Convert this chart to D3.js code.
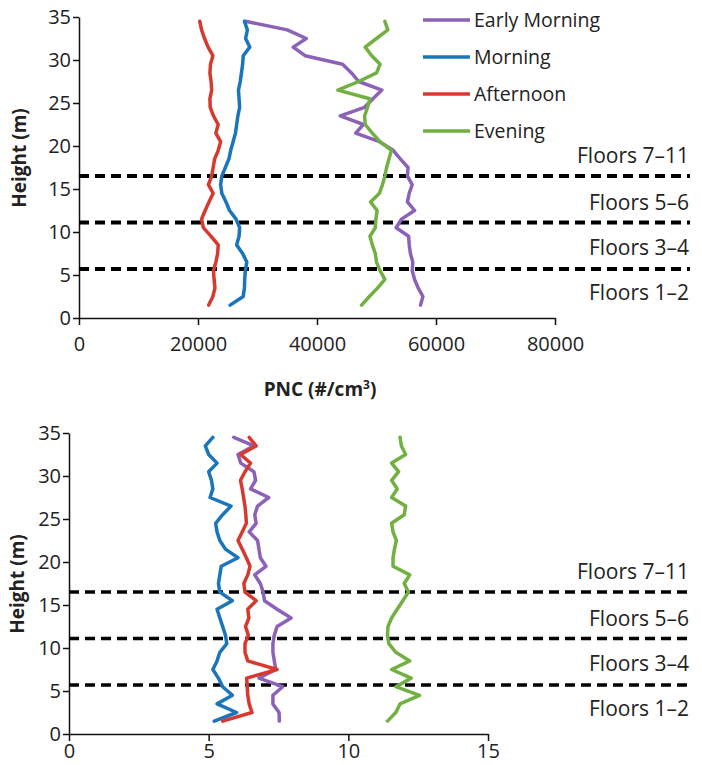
<!DOCTYPE html>
<html>
<head>
<meta charset="utf-8">
<script src="https://cdnjs.cloudflare.com/ajax/libs/d3/7.8.5/d3.min.js"></script>
<style>
    body { margin: 0; background: #fff; }
    svg text { font-family: "Open Sans", sans-serif; fill: #222; }
    .axis path, .axis line { stroke: #111; stroke-width: 1.5px; }
</style>
</head>
<body>
<div id="chart"></div>
<script>

// sampling heights (m), bottom to top
var heights = [1.5, 2.5, 3.5, 4.5, 5.5, 6.5, 7.5, 8.5, 9.5, 10.5, 11.5, 12.5, 13.5, 14.5, 15.5, 16.5, 17.5,
    18.5, 19.5, 20.5, 21.5, 22.5, 23.5, 24.5, 25.5, 26.5, 27.5, 28.5, 29.5, 30.5, 31.5, 32.5, 33.5, 34.5]

var seriesNames = ["Early Morning", "Morning", "Afternoon", "Evening"]
var seriesColours = ["#8c62b8", "#1a75bb", "#d63a2f", "#72b041"]

// top panel: PNC (#/cm3)
var pncEarly = [57400, 57800, 57000, 56400, 56000, 56100, 55700, 55500, 55400, 53300, 54200, 56400, 55200, 55500, 56000, 55200, 55300,
    54000, 52800, 50500, 46500, 47800, 43900, 48000, 49400, 50900, 47000, 45800, 44300, 38000, 36000, 38200, 35000, 28000]
var pncMorning = [25400, 27600, 27800, 27850, 27950, 28200, 27500, 26500, 26900, 27000, 26400, 25300, 24700, 24000, 23800, 24000, 24600,
    25200, 25500, 25900, 26300, 26500, 26700, 27000, 26900, 26800, 27100, 27300, 27500, 27600, 28700, 28000, 28300, 27800]
var pncAfternoon = [21800, 22500, 22850, 22700, 22600, 23000, 23300, 23400, 22200, 20900, 20600, 21200, 21850, 22550, 21750, 22300, 22550,
    22800, 23400, 23800, 23000, 23400, 22600, 22050, 22000, 22300, 22200, 22000, 22100, 22500, 21700, 21100, 20600, 20300]
var pncEvening = [47500, 48800, 50200, 51400, 50600, 50000, 49800, 49300, 48900, 49800, 49900, 50100, 49000, 50500, 51000, 51400, 51700,
    52100, 52500, 50600, 49300, 48100, 48000, 48500, 48900, 43500, 47000, 50000, 50600, 49200, 48100, 50000, 51900, 51400]

// bottom panel
var lowEarly = [7.53, 7.52, 7.3, 7.3, 7.65, 6.8, 7.4, 7.35, 7.3, 7.3, 7.35, 7.45, 7.95, 7.45, 7.0, 6.95, 6.85,
    6.65, 7.05, 6.85, 6.8, 6.75, 6.45, 6.7, 6.65, 6.75, 7.15, 6.5, 6.68, 6.62, 6.15, 6.05, 6.62, 5.9]
var lowMorning = [5.2, 6.0, 5.3, 5.85, 5.5, 5.35, 5.15, 5.3, 5.4, 5.65, 5.6, 5.5, 5.4, 5.3, 5.85, 5.4, 5.35,
    5.4, 5.45, 6.05, 5.6, 5.4, 5.3, 5.25, 5.5, 5.8, 5.05, 5.15, 5.1, 5.0, 5.3, 5.0, 4.88, 5.15]
var lowAfternoon = [5.5, 6.55, 6.45, 6.4, 6.38, 6.36, 7.45, 6.4, 6.3, 6.3, 6.42, 6.32, 6.44, 6.4, 6.7, 6.3, 6.26,
    6.4, 6.48, 6.35, 6.2, 6.05, 6.2, 6.35, 6.33, 6.3, 6.25, 6.2, 6.14, 6.3, 6.5, 6.14, 6.7, 6.45]
var lowEvening = [11.4, 11.7, 11.85, 12.55, 11.7, 12.25, 11.55, 12.2, 11.7, 11.45, 11.4, 11.42, 11.55, 11.75, 11.95, 12.15, 12.0,
    12.2, 11.6, 11.6, 11.65, 11.72, 11.6, 11.55, 12.0, 12.05, 11.55, 11.75, 11.55, 11.8, 11.55, 12.05, 11.9, 11.85]

var heightTicks = [0, 5, 10, 15, 20, 25, 30, 35]
var pncTicks = [0, 20000, 40000, 60000, 80000]
var lowTicks = [0, 5, 10, 15]

// floor boundaries (m) and label positions (m)
var floorLines = [5.7, 11.1, 16.5]
var floorLabels = ["Floors 1\u20132", "Floors 3\u20134", "Floors 5\u20136", "Floors 7\u201311"]
var floorLabelHeights = [2.1, 7.35, 12.55, 18.0]

var width = 702
var height = 765

var svg = d3.select("#chart").append("svg")
    .attr("width", width)
    .attr("height", height)

function drawPanel(opts) {

    var g = svg.append("g")

    var x = d3.scaleLinear().domain(opts.xDomain).range([opts.left, opts.right])
    var y = d3.scaleLinear().domain([0, 35]).range([opts.bottom, opts.top])

    g.append("g")
        .attr("class", "axis")
        .attr("transform", "translate(0," + opts.bottom + ")")
        .call(d3.axisBottom(x).tickValues(opts.xTicks).tickSize(7).tickSizeOuter(0).tickFormat(d3.format("d")))
        .call(function (a) {
            a.selectAll("text").attr("font-size", "20px").attr("y", opts.xLabelY).attr("dy", "0.35em")
                .style("font-family", "Open Sans").attr("fill", "#222")
        })

    g.append("g")
        .attr("class", "axis")
        .attr("transform", "translate(" + opts.left + ",0)")
        .call(d3.axisLeft(y).tickValues(heightTicks).tickSize(6).tickSizeOuter(0))
        .call(function (a) {
            a.selectAll("text").attr("font-size", "20px").attr("x", -8).style("font-family", "Open Sans").attr("fill", "#222")
        })

    // floor boundaries
    g.selectAll(".floor")
        .data(floorLines)
        .enter()
        .append("line")
        .attr("x1", opts.left)
        .attr("x2", 690)
        .attr("y1", function (d) { return y(d) })
        .attr("y2", function (d) { return y(d) })
        .style("stroke", "#000")
        .style("stroke-width", opts.dashWidth)
        .style("stroke-dasharray", "10,6")

    g.selectAll(".floorLabel")
        .data(floorLabels)
        .enter()
        .append("text")
        .attr("x", 689)
        .attr("y", function (d, i) { return y(floorLabelHeights[i]) })
        .attr("text-anchor", "end")
        .attr("font-size", "21px")
        .text(function (d) { return d })

    var line = d3.line()
        .x(function (d) { return x(d[0]) })
        .y(function (d) { return y(d[1]) })

    opts.series.forEach(function (values, i) {
        g.append("path")
            .datum(values.map(function (v, j) { return [v, heights[j]] }))
            .attr("d", line)
            .style("fill", "none")
            .style("stroke", seriesColours[i])
            .style("stroke-width", 3.5)
            .style("stroke-linejoin", "round")
            .style("stroke-linecap", "round")
    })

    g.append("text")
        .attr("transform", "translate(" + opts.yTitleX + "," + opts.yTitleY + ") rotate(-90)")
        .attr("text-anchor", "middle")
        .attr("font-size", "19px")
        .attr("font-weight", "bold")
        .text("Height (m)")

    return { x: x, y: y, g: g }
}

var topPanel = drawPanel({
    xDomain: [0, 80000], xTicks: pncTicks, xLabelY: 26,
    left: 79, right: 555, top: 17, bottom: 318,
    dashWidth: 4, yTitleX: 26, yTitleY: 158,
    series: [pncEarly, pncMorning, pncAfternoon, pncEvening]
})

var bottomPanel = drawPanel({
    xDomain: [0, 15], xTicks: lowTicks, xLabelY: 17,
    left: 69, right: 488, top: 433, bottom: 734,
    dashWidth: 3.5, yTitleX: 24, yTitleY: 584,
    series: [lowEarly, lowMorning, lowAfternoon, lowEvening]
})

// x title (top panel only)
var xTitle = topPanel.g.append("text")
    .attr("x", 320)
    .attr("y", 396)
    .attr("text-anchor", "middle")
    .attr("font-size", "19px")
    .attr("font-weight", "bold")
xTitle.append("tspan").text("PNC (#/cm")
xTitle.append("tspan").attr("font-size", "12px").attr("dy", "-7").text("3")
xTitle.append("tspan").attr("dy", "7").text(")")

// legend
var legend = topPanel.g.selectAll(".legend")
    .data(seriesNames)
    .enter()
    .append("g")
    .attr("transform", function (d, i) { return "translate(423," + (20 + i * 37) + ")" })

legend.append("line")
    .attr("x1", 0)
    .attr("x2", 47)
    .style("stroke", function (d, i) { return seriesColours[i] })
    .style("stroke-width", 3.5)

legend.append("text")
    .attr("x", 51)
    .attr("dy", "0.35em")
    .attr("font-size", "19.5px")
    .text(function (d) { return d })

</script>
</body>
</html>
